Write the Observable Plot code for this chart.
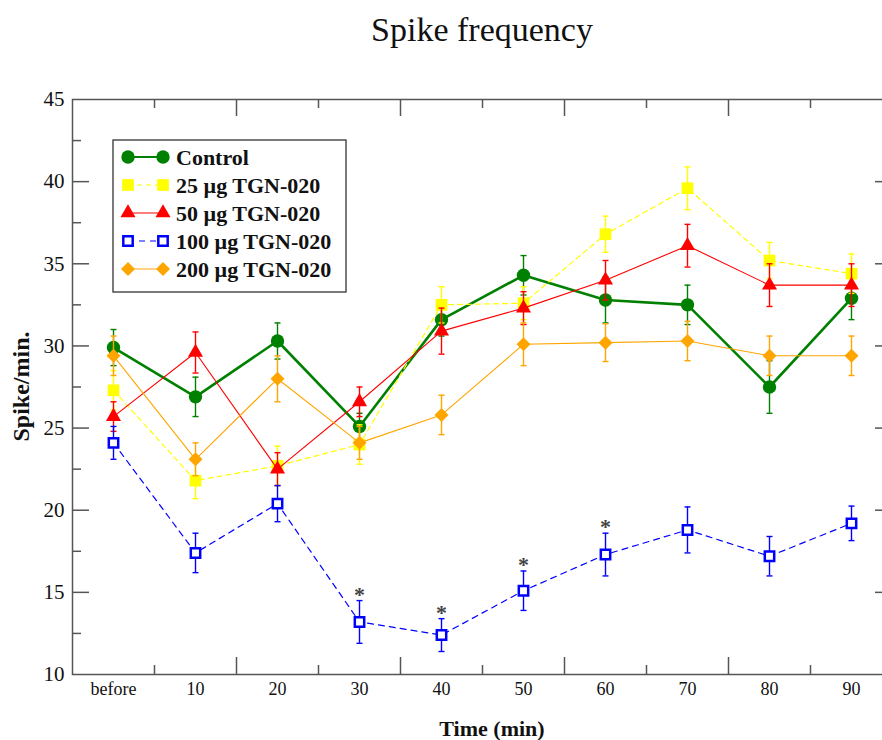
<!DOCTYPE html>
<html>
<head>
<meta charset="utf-8">
<script src="https://cdn.jsdelivr.net/npm/d3@7"></script>
<script src="https://cdn.jsdelivr.net/npm/@observablehq/plot@0.6"></script>
<style>
  body { margin: 0; background: #fff; }
  #wrap { position: relative; width: 882px; height: 740px; overflow: hidden; background: #fff; }
  #wrap svg { position: absolute; left: 0; top: 0; max-width: none !important; }
  #overlay { pointer-events: none; }
</style>
</head>
<body>
<div id="wrap"></div>
<script>
// ---------------- data ----------------
const categories = ["before", "10", "20", "30", "40", "50", "60", "70", "80", "90"];
const seriesNames = ["Control", "25 µg TGN-020", "50 µg TGN-020", "100 µg TGN-020", "200 µg TGN-020"];

const control     = [29.9, 26.9, 30.3, 25.1, 31.6, 34.3, 32.8, 32.5, 27.5, 32.9];
const controlErr  = [1.1, 1.2, 1.1, 0.8, 1.0, 1.2, 1.4, 1.2, 1.6, 1.3];
const dose25      = [27.3, 21.8, 22.7, 24.0, 32.5, 32.6, 36.8, 39.6, 35.2, 34.4];
const dose25Err   = [1.2, 1.1, 1.2, 1.2, 1.1, 1.0, 1.1, 1.3, 1.1, 1.2];
const dose50      = [25.7, 29.6, 22.5, 26.6, 30.9, 32.3, 34.0, 36.1, 33.7, 33.7];
const dose50Err   = [0.9, 1.25, 1.0, 0.9, 1.4, 1.0, 1.2, 1.3, 1.3, 1.3];
const dose100     = [24.1, 17.4, 20.4, 13.2, 12.4, 15.1, 17.3, 18.8, 17.2, 19.2];
const dose100Err  = [1.0, 1.2, 1.1, 1.3, 1.0, 1.2, 1.3, 1.4, 1.2, 1.05];
const dose200     = [29.4, 23.1, 28.0, 24.1, 25.8, 30.1, 30.2, 30.3, 29.4, 29.4];
const dose200Err  = [1.2, 1.0, 1.4, 1.0, 1.2, 1.3, 1.15, 1.2, 1.2, 1.2];

const starIndices = [3, 4, 5, 6];           // significance marks on 100 µg series
const yTickLabels = [10, 15, 20, 25, 30, 35, 40, 45];
const yMinorTicks = [12.5, 17.5, 22.5, 27.5, 32.5, 37.5, 42.5];

// ---------------- styles ----------------
const FONT = '"Liberation Serif", "Times New Roman", serif';
const styles = [
  {color: "#008000", symbol: "circle",   r: 6.7, fill: "#008000", stroke: "none", sw: 0,   lw: 2.6, dash: null},
  {color: "#ffff00", symbol: "square",   r: 6.6, fill: "#ffff00", stroke: "none", sw: 0,   lw: 1.2, dash: "5,4"},
  {color: "#ff0000", symbol: "triangle", r: 5.6, fill: "#ff0000", stroke: "none", sw: 0,   lw: 1.1, dash: null},
  {color: "#0000ff", symbol: "square",   r: 5.3, fill: "#ffffff", stroke: "#0000ff", sw: 2.5, lw: 1.2, dash: "6,5"},
  {color: "#ffa500", symbol: "diamond2", r: 6.3, fill: "#ffa500", stroke: "none", sw: 0,   lw: 1.1, dash: null}
];
const seriesMeans = [control, dose25, dose50, dose100, dose200];
const seriesErrs  = [controlErr, dose25Err, dose50Err, dose100Err, dose200Err];

const capSymbol = {
  draw(ctx, size) {
    const w = Math.sqrt(size / Math.PI);
    ctx.moveTo(-w, 0); ctx.lineTo(w, 0);
  }
};

// ---------------- layout ----------------
const W = 892, H = 740;
const mT = 99, mB = 66, mL = 72, mR = 0;
const plotH = H - mT - mB;
const plotW = W - mL - mR;
const axisColor = "#555";

const boundaries = categories.slice(1).map((_, i) => i + 0.5);
const xMajor = boundaries.filter((_, i) => i % 2 === 1);
const xMinor = boundaries.filter((_, i) => i % 2 === 0);
const yMajor = yTickLabels.slice(1, -1);

const marks = [];
// inward ticks: bottom, top
marks.push(Plot.tickX(xMajor, {x: d => d, insetTop: plotH - 17, stroke: axisColor, strokeWidth: 1.5}));
marks.push(Plot.tickX(xMinor, {x: d => d, insetTop: plotH - 9, stroke: axisColor, strokeWidth: 1.5}));
marks.push(Plot.tickX(xMajor, {x: d => d, insetBottom: plotH - 17, stroke: axisColor, strokeWidth: 1.5}));
marks.push(Plot.tickX(xMinor, {x: d => d, insetBottom: plotH - 9, stroke: axisColor, strokeWidth: 1.5}));
// inward ticks: left, right
marks.push(Plot.tickY(yMajor, {y: d => d, insetRight: plotW - 17, stroke: axisColor, strokeWidth: 1.5}));
marks.push(Plot.tickY(yMinorTicks, {y: d => d, insetRight: plotW - 9, stroke: axisColor, strokeWidth: 1.5}));
marks.push(Plot.tickY(yMajor, {y: d => d, insetLeft: plotW - 17, stroke: axisColor, strokeWidth: 1.5}));
marks.push(Plot.tickY(yMinorTicks, {y: d => d, insetLeft: plotW - 9, stroke: axisColor, strokeWidth: 1.5}));

marks.push(Plot.axisY({ticks: yTickLabels, tickSize: 0, tickPadding: 8, fontSize: 21, tickFormat: d => String(d), label: null}));
marks.push(Plot.axisX({ticks: categories.map((_, i) => i), tickSize: 0, tickPadding: 8, fontSize: 18, tickFormat: i => categories[i], label: null}));

seriesMeans.forEach((means, k) => {
  const s = styles[k];
  const data = means.map((m, i) => ({i, m, e: seriesErrs[k][i]}));
  marks.push(Plot.line(data, {x: "i", y: "m", stroke: s.color, strokeWidth: s.lw, strokeDasharray: s.dash}));
  marks.push(Plot.ruleX(data, {x: "i", y1: d => d.m - d.e, y2: d => d.m + d.e, stroke: s.color, strokeWidth: 1.4}));
  marks.push(Plot.dot(data, {x: "i", y: d => d.m + d.e, symbol: capSymbol, r: 3, fill: "none", stroke: s.color, strokeWidth: 1.4}));
  marks.push(Plot.dot(data, {x: "i", y: d => d.m - d.e, symbol: capSymbol, r: 3, fill: "none", stroke: s.color, strokeWidth: 1.4}));
  marks.push(Plot.dot(data, {x: "i", y: "m", symbol: s.symbol, r: s.r, fill: s.fill, stroke: s.stroke, strokeWidth: s.sw}));
});

marks.push(Plot.text(starIndices.map(i => ({i, top: dose100[i] + dose100Err[i]})), {
  x: "i", y: "top", text: () => "*", dy: -6, fontSize: 22, fontWeight: "bold", fill: "#444"
}));

marks.push(Plot.frame({stroke: axisColor, strokeWidth: 1.5}));

const chart = Plot.plot({
  width: W, height: H,
  marginTop: mT, marginBottom: mB, marginLeft: mL, marginRight: mR,
  style: {fontFamily: FONT, background: "transparent", color: "#111", overflow: "visible", maxWidth: "none"},
  x: {type: "linear", domain: [-0.5, categories.length - 0.5], axis: null},
  y: {type: "linear", domain: [yTickLabels[0], yTickLabels[yTickLabels.length - 1]], axis: null},
  marks
});
document.getElementById("wrap").appendChild(chart);

// ---------------- titles & legend overlay ----------------
const ov = d3.select("#wrap").append("svg").attr("id", "overlay")
  .attr("width", 882).attr("height", 740)
  .style("font-family", FONT);

ov.append("text").attr("x", mL + plotW / 2).attr("y", 41).attr("text-anchor", "middle")
  .attr("font-size", 34).attr("fill", "#111").text("Spike frequency");
ov.append("text").attr("x", 492).attr("y", 736).attr("text-anchor", "middle")
  .attr("font-size", 22).attr("font-weight", "bold").attr("fill", "#111").text("Time (min)");
ov.append("text").attr("transform", `translate(29,${mT + plotH / 2}) rotate(-90)`).attr("text-anchor", "middle")
  .attr("font-size", 24).attr("font-weight", "bold").attr("fill", "#111").text("Spike/min.");

const lg = ov.append("g");
lg.append("rect").attr("x", 113).attr("y", 140).attr("width", 233).attr("height", 152)
  .attr("fill", "#fff").attr("stroke", "#333").attr("stroke-width", 1.3);
const symMap = {circle: d3.symbolCircle, square: d3.symbolSquare, triangle: d3.symbolTriangle, diamond2: d3.symbolDiamond2};
seriesNames.forEach((name, k) => {
  const s = styles[k];
  const y = 157 + 28 * k;
  lg.append("line").attr("x1", 128).attr("x2", 163).attr("y1", y).attr("y2", y)
    .attr("stroke", s.color).attr("stroke-width", Math.min(s.lw, 2.2)).attr("stroke-dasharray", s.dash);
  [128, 163].forEach(x => {
    lg.append("path").attr("transform", `translate(${x},${y})`)
      .attr("d", d3.symbol(symMap[s.symbol], s.r * s.r * Math.PI)())
      .attr("fill", s.fill).attr("stroke", s.stroke).attr("stroke-width", s.sw);
  });
  lg.append("text").attr("x", 176).attr("y", y + 7.5).attr("font-size", 22).attr("font-weight", "bold")
    .attr("fill", "#111").text(name);
});
</script>
</body>
</html>
